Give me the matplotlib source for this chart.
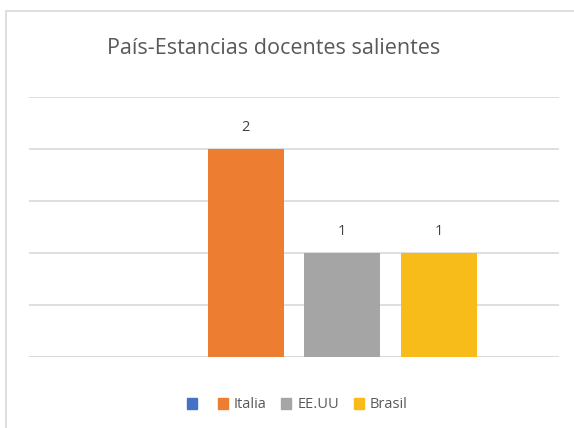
import matplotlib.pyplot as plt
import matplotlib.patches as mpatches
import numpy as np

# Chart data
title = 'País-Estancias docentes salientes'
series_names = ['', 'Italia', 'EE.UU', 'Brasil']
series_values = [np.nan, 2, 1, 1]
series_colors = ['#4472C4', '#ED7D31', '#A5A5A5', '#F8BC1A']
y_ticks = [0, 0.5, 1, 1.5, 2, 2.5]

plt.rcParams['font.family'] = ['Open Sans', 'DejaVu Sans']

fig = plt.figure(figsize=(5.74, 4.28), dpi=100)

# Excel-like chart border (cropped at right/bottom)
fig.patches.append(mpatches.Rectangle((6 / 574, -0.05), 1.2, 1 - 11 / 428 + 0.05,
                                      transform=fig.transFigure, fill=False,
                                      edgecolor='#D9D9D9', linewidth=1.2))

ax = fig.add_axes([29 / 574, 1 - 357 / 428, 530 / 574, 260 / 428])

x = np.arange(len(series_names))
bars = ax.bar(x, series_values, width=0.786, color=series_colors, zorder=3)

for xi, v in zip(x, series_values):
    if not np.isnan(v):
        ax.text(xi, v + 0.13, f'{v:g}', ha='center', va='bottom',
                fontsize=10.5, color='#404040')

ax.set_xlim(-1.24, 4.24)
ax.set_ylim(0, 2.5)
ax.set_yticks(y_ticks)
ax.yaxis.grid(True, color='#D9D9D9', linewidth=1.2, zorder=0)
ax.tick_params(left=False, bottom=False, labelleft=False, labelbottom=False)
for s in ax.spines.values():
    s.set_visible(False)
ax.axhline(0, color='#D9D9D9', linewidth=1.2, zorder=2)

fig.text(0.477, 1 - 48 / 428, title, ha='center', va='center',
         fontsize=15.5, color='#595959')

handles = [mpatches.Patch(color=c) for c in series_colors]
fig.legend(handles, series_names, loc='center', bbox_to_anchor=(0.518, 1 - 405 / 428),
           ncol=4, frameon=False, fontsize=10.5, handlelength=0.7, handleheight=0.7,
           handletextpad=0.4, columnspacing=1.0, labelcolor='#595959')

fig.savefig('out.png', dpi=100)
